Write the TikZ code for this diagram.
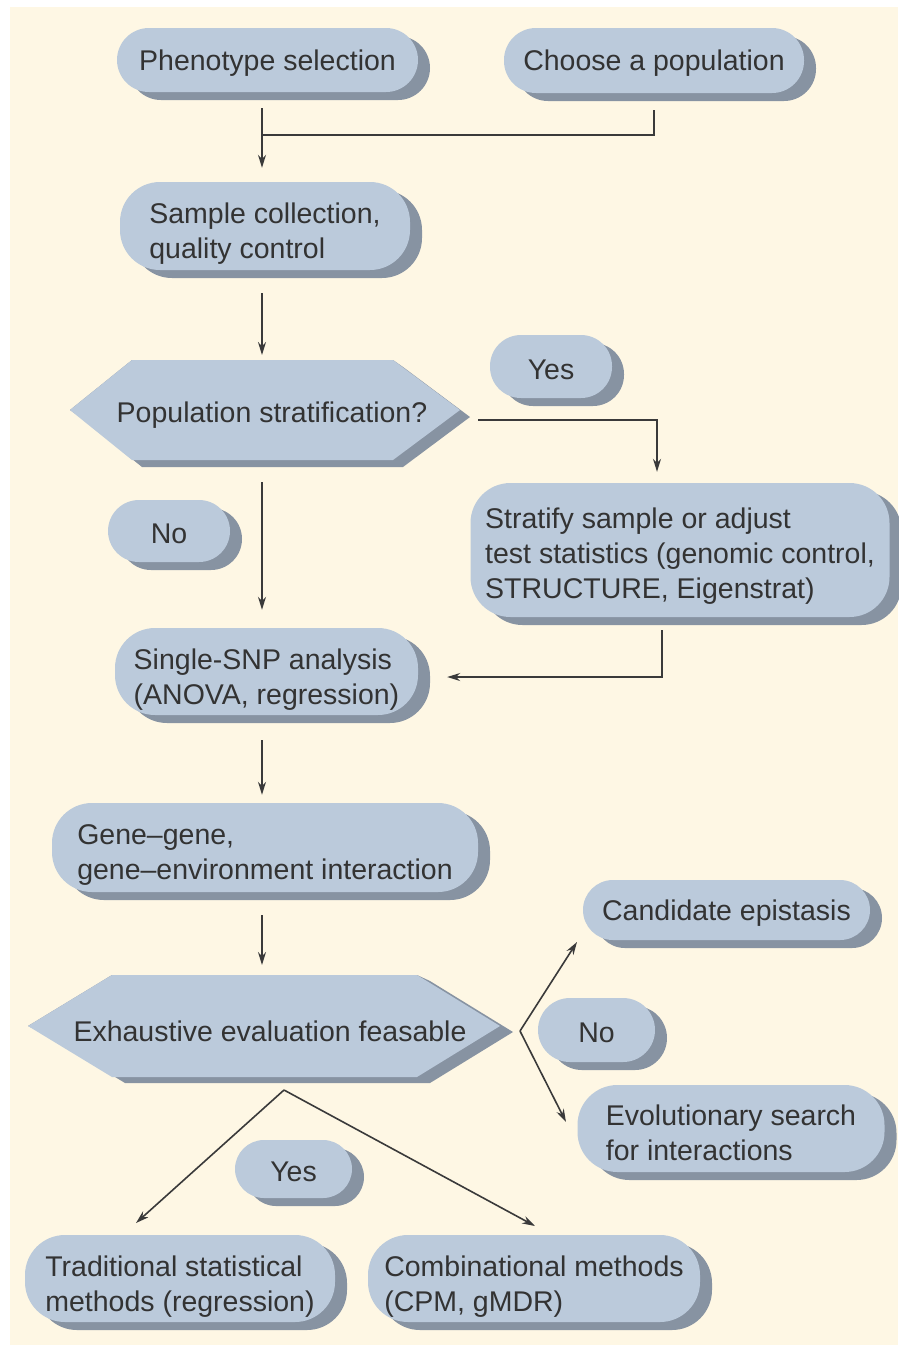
\documentclass[tikz,border=0pt]{standalone}
\usepackage{fontspec}
\setmainfont{Liberation Sans}
\usetikzlibrary{arrows.meta,shadows,calc}
\definecolor{cream}{HTML}{FEF7E4}
\definecolor{boxc}{HTML}{BBCADB}
\definecolor{shadc}{HTML}{8793A2}
\definecolor{txt}{HTML}{333333}
\definecolor{linec}{HTML}{3A3A3A}
\newcommand\boxtxt[2][8pt]{\raisebox{-#1}[\height][\depth]{\begin{tabular}{@{}l@{}}#2\end{tabular}}}
\newcommand\onetxt[1]{\raisebox{-3pt}[\height][\depth]{#1}}
\begin{document}
\begin{tikzpicture}[x=1pt,y=-1pt,
  box/.style={fill=boxc, text=txt, font=\fontsize{28.5}{35}\selectfont, inner sep=0pt,
    general shadow={fill=shadc, shadow xshift=12pt, shadow yshift=-8pt}},
  lbl/.style={text=txt, font=\fontsize{28.5}{35}\selectfont, inner sep=0pt},
  arr/.style={draw=linec, line width=1.6pt, -{Stealth[length=13pt,width=8pt]}},
  ln/.style={draw=linec, line width=1.6pt},
  hexface/.style={fill=boxc},
  hexshade/.style={fill=shadc}
]
\useasboundingbox (0,0) rectangle (898,1345);
\fill[white] (0,0) rectangle (898,1345);
\fill[cream] (10,7) rectangle (898,1345);

% column coordinate
\coordinate (col) at (262,0);

% top row
\node[box, rounded corners=32pt, minimum width=301pt, minimum height=64pt] (pheno) at (267.5,60) {\onetxt{Phenotype selection}};
\node[box, rounded corners=32pt, minimum width=300pt, minimum height=65pt] (choose) at (654,60.5) {\onetxt{Choose a population}};

\node[box, rounded corners=40pt, minimum width=290pt, minimum height=88pt] (sample) at (265,226) {\boxtxt{Sample collection,\\quality control}};

% hexagon 1
\fill[hexshade] (70,410) -- (132,360) -- (393,360) -- (403,367) -- (470,417) -- (403,467) -- (142,467) -- (80,417) -- cycle;
\fill[hexface] (70,410) -- (132,360) -- (393,360) -- (460,410) -- (393,460) -- (132,460) -- cycle;
\node[lbl] (q1) at (272,412) {\onetxt{Population stratification?}};
\coordinate (q1n) at (262,360);
\coordinate (q1s) at (262,467);
\coordinate (q1e) at (478,420);

\node[box, rounded corners=31pt, minimum width=122pt, minimum height=63pt] (yes1) at (551,366.5) {\onetxt{Yes}};
\node[box, rounded corners=40pt, minimum width=419pt, minimum height=134pt] (strat) at (680,550) {\boxtxt[6pt]{Stratify sample or adjust\\test statistics (genomic control,\\STRUCTURE, Eigenstrat)}};
\node[box, rounded corners=31pt, minimum width=122pt, minimum height=62pt] (no1) at (169,531) {\onetxt{No}};

\node[box, rounded corners=40pt, minimum width=303pt, minimum height=87pt] (single) at (266.5,671.5) {\boxtxt{Single-SNP analysis\\(ANOVA, regression)}};
\node[box, rounded corners=40pt, minimum width=426pt, minimum height=89pt] (gene) at (265,847.5) {\boxtxt[7pt]{Gene–gene,\\gene–environment interaction}};

% hexagon 2
\fill[hexshade] (28,1026) -- (112,975) -- (417,975) -- (430,981) -- (513,1032) -- (430,1083) -- (125,1083) -- (41,1032) -- cycle;
\fill[hexface] (28,1026) -- (112,975) -- (417,975) -- (500,1026) -- (417,1077) -- (112,1077) -- cycle;
\node[lbl] (q2) at (270,1028) {\onetxt{Exhaustive evaluation feasable}};
\coordinate (q2n) at (262,975);
\coordinate (j2) at (520,1031);
\coordinate (apex) at (284,1090);

\node[box, rounded corners=30pt, minimum width=287pt, minimum height=60pt] (cand) at (726.5,910) {\onetxt{Candidate epistasis}};
\node[box, rounded corners=32pt, minimum width=117pt, minimum height=64pt] (no2) at (596.5,1030) {\onetxt{No}};
\node[box, rounded corners=40pt, minimum width=307pt, minimum height=87pt] (evol) at (731,1128.5) {\boxtxt[7pt]{Evolutionary search\\for interactions}};
\node[box, rounded corners=29pt, minimum width=117pt, minimum height=58pt] (yes2) at (293.5,1169) {\onetxt{Yes}};
\node[box, rounded corners=40pt, minimum width=310pt, minimum height=87pt] (trad) at (180,1278.5) {\boxtxt{Traditional statistical\\methods (regression)}};
\node[box, rounded corners=40pt, minimum width=332pt, minimum height=87pt] (comb) at (534,1278.5) {\boxtxt{Combinational methods\\(CPM, gMDR)}};

\coordinate (t1) at (577,942);
\coordinate (t2) at (566,1122);
\coordinate (t3) at (136,1223);
\coordinate (t4) at (535,1226);
\coordinate (k1) at (657,0);
\coordinate (k2) at (662,677);
\coordinate (m) at (262,135);

% connectors
\draw[arr, shorten <=16pt, shorten >=14pt] (pheno.south -| col) -- (sample.north -| col);
\draw[ln, shorten <=17pt] (choose.south) |- (m);
\draw[arr, shorten <=23pt, shorten >=5pt] (sample.south -| col) -- (q1n);
\draw[arr, shorten <=15pt, shorten >=18pt] (q1s) -- (single.north -| col);
\draw[arr, shorten >=11pt] (q1e) -| (strat.north -| k1);
\draw[arr, shorten <=13pt, shorten >=29pt] (strat.south -| k2) |- (single.east |- k2);
\draw[arr, shorten <=25pt, shorten >=8pt] (single.south -| col) -- (gene.north -| col);
\draw[arr, shorten <=23pt, shorten >=10pt] (gene.south -| col) -- (q2n);
\draw[arr] (j2) -- (t1);
\draw[arr] (j2) -- (t2);
\draw[arr] (apex) -- (t3);
\draw[arr] (apex) -- (t4);
\end{tikzpicture}
\end{document}
